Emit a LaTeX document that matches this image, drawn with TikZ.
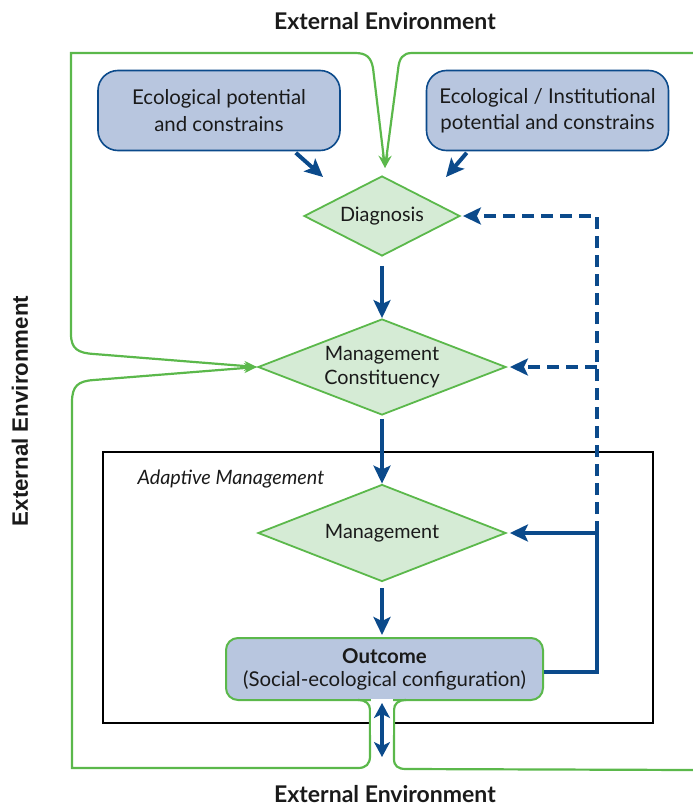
\documentclass[tikz,border=0pt]{standalone}
\usepackage{fontspec}
\setmainfont{Lato}
\newfontfamily\sidefont{Liberation Sans}
\usetikzlibrary{shapes.geometric,arrows.meta}

\definecolor{navy}{HTML}{0B4A8B}
\definecolor{leaf}{HTML}{5BB84B}
\definecolor{mint}{HTML}{D5EBD5}
\definecolor{slate}{HTML}{B8C6DF}
\definecolor{ink}{HTML}{1A1A1A}

\tikzset{
  infobox/.style={rounded corners=20pt, draw=navy, line width=1.6pt, fill=slate,
    minimum width=242pt, minimum height=80pt, align=center, inner sep=0pt,
    text=ink, font=\fontsize{20.4}{26.5}\selectfont},
  decision/.style={diamond, draw=leaf, line width=1.8pt, fill=mint, inner sep=0pt,
    align=center, text=ink, font=\fontsize{19.8}{23.5}\selectfont},
  flow/.style={draw=navy, line width=4pt, -{Stealth[length=18pt,width=17pt,inset=4pt]}},
  feedback/.style={flow, dash pattern=on 12pt off 7pt},
  envline/.style={draw=leaf, line width=2.2pt},
  envtip/.tip={Stealth[length=13pt,width=10pt]},
  envlabel/.style={text=ink, inner sep=0pt, anchor=base, font=\bfseries\fontsize{23}{25}\selectfont}
}

\begin{document}
\begin{tikzpicture}[x=1pt,y=-1pt]
\useasboundingbox (0,0) rectangle (693,806);

% surrounding environment labels
\node[envlabel] (tenv) at (385,29) {External Environment};
\node[envlabel] (benv) at (385,802) {External Environment};
\node[text=ink, font=\sidefont\bfseries\fontsize{22.3}{24}\selectfont, rotate=90] (lenv) at (20,411) {External Environment};

% adaptive management frame
\node[draw=black, line width=1.8pt, minimum width=550pt, minimum height=271pt, inner sep=0pt] (am) at (378,587.5) {};
\node[anchor=west, text=ink, font=\itshape\fontsize{19.8}{22}\selectfont] (amlabel) at (134,479) {Adaptive Management};

% potentials and constraints
\node[infobox] (eco1) at (219,110.5) {Ecological potential\\and constrains};
\node[infobox] (eco2) at (547.5,110.5) {Ecological / Institutional\\potential and constrains};

% decision steps
\node[decision, shape aspect=1.95, minimum width=156pt, minimum height=80pt] (diag) at (382,216) {Diagnosis};
\node[decision, shape aspect=2.58, minimum width=248pt, minimum height=96pt] (mc) at (382,367) {Management\\Constituency};
\node[decision, shape aspect=2.56, minimum width=248pt, minimum height=97pt] (mgmt) at (382,533) {Management};

% outcome
\node[draw=leaf, line width=2pt, fill=slate, rounded corners=12pt, minimum width=317pt,
  minimum height=62pt, inner sep=0pt, align=center, text=ink,
  font=\fontsize{20.4}{23}\selectfont] (outc) at (384.5,669)
  {{\bfseries Outcome}\\(Social-ecological configuration)};

% free ends and bends
\coordinate (tipA) at (323,177);
\coordinate (tipB) at (446,177);
\coordinate (fbm) at (597,533);
\coordinate (fbc) at (597,367);
\coordinate (fbd) at (597,216);
\coordinate (gtop) at (385,168);
\coordinate (dtop) at (382,703);
\coordinate (dbot) at (382,757);

% main flow
\draw[flow] ([xshift=-45pt,yshift=-1.5pt]eco1.south east) -- (tipA);
\draw[flow] ([xshift=41pt,yshift=-1.5pt]eco2.south west) -- (tipB);
\draw[flow] ([yshift=-9pt]diag.south) -- (mc.north);
\draw[flow] ([yshift=-3pt]mc.south) -- (mgmt.north);
\draw[flow] ([yshift=-6pt]mgmt.south) -- ([yshift=2pt]mgmt.south |- outc.north);

% feedback loops
\draw[flow] ([yshift=-3pt]outc.east) -| (fbm) -- ([xshift=3pt]mgmt.east);
\draw[feedback] (fbm) -- (fbd) -- ([xshift=2pt]diag.east);
\draw[feedback] (fbc) -- ([xshift=3pt]mc.east);

% external environment boundary
\draw[envline, envtip-envtip] (gtop) -- (373,68) .. controls (371,57) and (366,53) .. (355,53)
  -- (71,53) -- (71,334) .. controls (71,349) and (78,353) .. (94,354) -- (mc.west);
\draw[envline, -envtip] (693,53) -- (412,53) .. controls (403,53) and (399,58) .. (398,70) -- (gtop);
\draw[envline, envtip-] (mc.west) -- (94,380) .. controls (78,381) and (72,386) .. (72,402)
  -- (72,768) -- (358,768) .. controls (366,768) and (370,764) .. (370,756)
  -- (370,710) .. controls (370,704) and (366,700) .. (358,700);
\draw[envline] (406,700) .. controls (398,700) and (394,704) .. (394,710)
  -- (394,759) .. controls (394,766) and (398,769) .. (406,769) -- (693,770);

% opening between outcome and environment
\fill[white] (371.2,699) rectangle (392.8,735);
\draw[navy, line width=4pt, {Stealth[length=15pt,width=16pt,inset=4pt]}-{Stealth[length=15pt,width=16pt,inset=4pt]}] (dtop) -- (dbot);
\end{tikzpicture}
\end{document}
